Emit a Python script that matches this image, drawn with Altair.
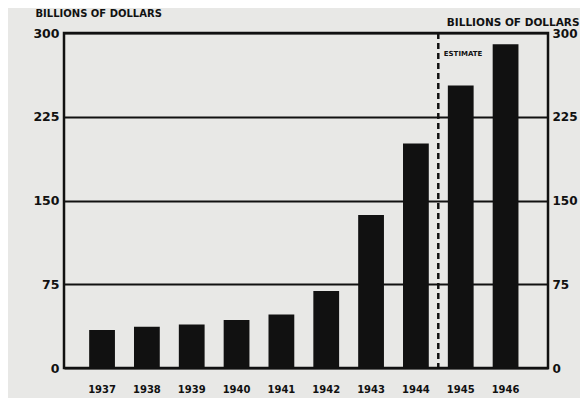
import altair as alt
import pandas as pd

years = ["1937", "1938", "1939", "1940", "1941", "1942", "1943", "1944", "1945", "1946"]
debt = [34, 37, 39, 43, 48, 69, 137, 201, 253, 290]
y_ticks = [0, 75, 150, 225, 300]
axis_title = "BILLIONS OF DOLLARS"
estimate_after = ["1944"]
estimate_label = ["ESTIMATE"]

df = pd.DataFrame({"year": years, "debt": debt})
est = pd.DataFrame({"year": estimate_after, "label": estimate_label})

FONT = "DejaVu Sans"

xscale = alt.Scale(paddingInner=0.425, paddingOuter=0.61, align=0.46)
x_enc = alt.X(
    "year:N",
    sort=years,
    scale=xscale,
    axis=alt.Axis(
        title=None, labelAngle=0, domain=False, ticks=False,
        labelFont=FONT, labelFontSize=10, labelFontWeight="bold",
        labelColor="#111", labelPadding=16,
    ),
)

yscale = alt.Scale(domain=[0, 300], nice=False)

bars = alt.Chart(df).mark_bar(color="#111").encode(
    x=x_enc,
    y=alt.Y(
        "debt:Q",
        scale=yscale,
        axis=alt.Axis(
            values=y_ticks, title=axis_title, titleAngle=0, titleX=-29, titleY=-20,
            titleAlign="left", titleBaseline="middle", titleFont=FONT,
            titleFontSize=10, titleFontWeight="bold", titleColor="#111",
            grid=True, gridColor="#111", gridWidth=2, domain=False, ticks=False,
            labelFont=FONT, labelFontSize=12.5, labelFontWeight="bold",
            labelColor="#111", labelPadding=5,
        ),
    ),
)

right = alt.Chart(df).mark_bar(opacity=0).encode(
    x=alt.X("year:N", sort=years, scale=xscale),
    y=alt.Y(
        "debt:Q",
        scale=yscale,
        axis=alt.Axis(
            orient="right", values=y_ticks, title=axis_title, titleAngle=0,
            titleX=31, titleY=-11, titleAlign="right", titleBaseline="middle",
            titleFont=FONT, titleFontSize=10.5, titleFontWeight="bold",
            titleColor="#111", grid=False, domain=False, ticks=False,
            labelFont=FONT, labelFontSize=12, labelFontWeight="bold",
            labelColor="#111", labelPadding=4,
        ),
    ),
)

rule = alt.Chart(est).mark_rule(
    color="#111", strokeWidth=2.5, strokeDash=[6, 4], xOffset=9.5
).encode(
    x=alt.X("year:N", sort=years, scale=xscale, bandPosition=1),
)

label = alt.Chart(est).mark_text(
    align="left", baseline="middle", font=FONT, fontSize=7, fontWeight="bold",
    color="#111", dx=15,
).encode(
    x=alt.X("year:N", sort=years, scale=xscale, bandPosition=1),
    y=alt.value(21),
    text="label:N",
)

chart = (
    alt.layer(bars, right, rule, label)
    .resolve_scale(y="independent")
    .properties(
        width=484, height=335,
        autosize=alt.AutoSizeParams(type="none"),
        padding={"left": 56, "top": 25, "right": 32, "bottom": 30},
        background="#e8e8e6",
    )
    .configure_view(stroke="#111", strokeWidth=2.5)
)

chart.save("out.html", embed_options={"renderer": "svg", "actions": False})
